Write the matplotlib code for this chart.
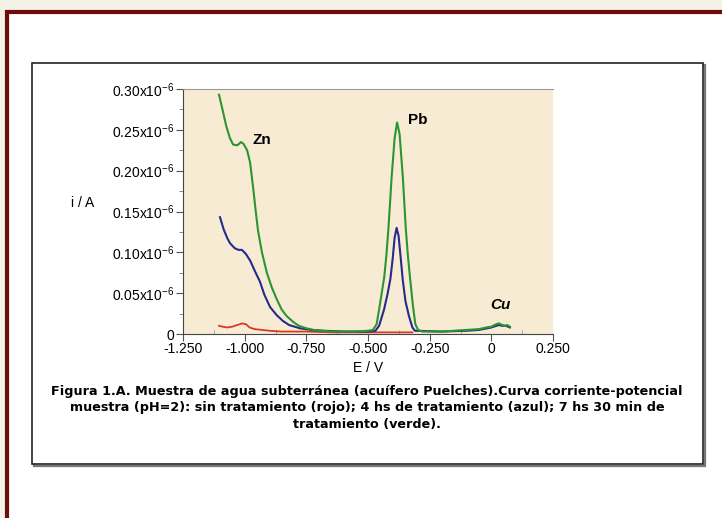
import matplotlib.pyplot as plt
from matplotlib.patches import Rectangle
from matplotlib.ticker import MultipleLocator, FixedLocator

# potential (V) and current (x1e-6 A)
e_green = [-1.104, -1.09, -1.075, -1.06, -1.047, -1.03, -1.015, -1.005, -0.99, -0.978,
           -0.966, -0.955, -0.946, -0.93, -0.91, -0.89, -0.869, -0.85, -0.83, -0.804,
           -0.78, -0.75, -0.72, -0.695, -0.65, -0.60, -0.55, -0.50, -0.48, -0.465,
           -0.455, -0.434, -0.425, -0.417, -0.404, -0.392, -0.382, -0.372, -0.359, -0.347,
           -0.338, -0.330, -0.318, -0.308, -0.297, -0.28, -0.20, -0.15, -0.10, -0.05,
           -0.02, 0.00, 0.02, 0.03, 0.045, 0.055, 0.065, 0.075]
i_green = [0.293, 0.275, 0.255, 0.240, 0.232, 0.231, 0.235, 0.233, 0.225, 0.210,
           0.180, 0.150, 0.127, 0.100, 0.075, 0.057, 0.042, 0.030, 0.022, 0.015,
           0.010, 0.007, 0.005, 0.004, 0.003, 0.003, 0.003, 0.004, 0.005, 0.012,
           0.030, 0.070, 0.098, 0.130, 0.193, 0.240, 0.259, 0.245, 0.193, 0.130,
           0.095, 0.070, 0.035, 0.012, 0.005, 0.003, 0.003, 0.004, 0.005, 0.006,
           0.008, 0.009, 0.012, 0.013, 0.011, 0.010, 0.011, 0.009]

e_blue = [-1.100, -1.085, -1.07, -1.059, -1.04, -1.025, -1.011, -0.995, -0.978, -0.96,
          -0.938, -0.92, -0.897, -0.87, -0.845, -0.82, -0.776, -0.73, -0.68, -0.60,
          -0.50, -0.47, -0.455, -0.435, -0.42, -0.409, -0.40, -0.392, -0.384, -0.376,
          -0.368, -0.359, -0.348, -0.334, -0.32, -0.31, -0.20, -0.10, -0.05, 0.00,
          0.02, 0.03, 0.045, 0.06, 0.075]
i_blue = [0.143, 0.128, 0.117, 0.111, 0.105, 0.103, 0.103, 0.098, 0.090, 0.078,
          0.064, 0.048, 0.033, 0.023, 0.016, 0.011, 0.007, 0.005, 0.004, 0.003,
          0.003, 0.004, 0.010, 0.030, 0.050, 0.068, 0.092, 0.118, 0.130, 0.120,
          0.095, 0.066, 0.040, 0.022, 0.008, 0.004, 0.003, 0.004, 0.005, 0.008,
          0.010, 0.011, 0.010, 0.010, 0.008]

e_red = [-1.104, -1.09, -1.07, -1.05, -1.03, -1.01, -0.995, -0.98, -0.96, -0.93,
         -0.90, -0.85, -0.75, -0.65, -0.55, -0.45, -0.38, -0.32]
i_red = [0.010, 0.009, 0.008, 0.009, 0.011, 0.013, 0.012, 0.008, 0.006, 0.005,
         0.004, 0.003, 0.003, 0.002, 0.002, 0.002, 0.002, 0.002]

y_ticks = [0, 0.05, 0.10, 0.15, 0.20, 0.25, 0.30]
y_labels = ['0'] + [f'{v:.2f}x10$^{{-6}}$' for v in y_ticks[1:]]
x_ticks = [-1.25, -1.0, -0.75, -0.5, -0.25, 0, 0.25]
x_labels = ['-1.250', '-1.000', '-0.750', '-0.500', '-0.250', '0', '0.250']

caption = ("Figura 1.A. Muestra de agua subterránea (acuífero Puelches).Curva corriente-potencial\n"
           "muestra (pH=2): sin tratamiento (rojo); 4 hs de tratamiento (azul); 7 hs 30 min de\n"
           "tratamiento (verde).")

plt.rcParams['font.family'] = 'Liberation Sans'
plt.rcParams['mathtext.fontset'] = 'custom'
plt.rcParams['mathtext.rm'] = 'Liberation Sans'

W, H = 722, 518
fig = plt.figure(figsize=(W / 100, H / 100), dpi=100, facecolor='#f4f1e8')

def box(x0, y0, x1, y1, **kw):
    # pixel coords from the top-left corner
    fig.add_artist(Rectangle((x0 / W, 1 - y1 / H), (x1 - x0) / W, (y1 - y0) / H,
                             transform=fig.transFigure, zorder=-5, **kw))

box(7, 12, 760, 560, facecolor='white', edgecolor='#6e0a0a', lw=3.0)
box(34, 65, 705, 466, facecolor='none', edgecolor='#777777', lw=1.6)
box(32, 63, 703, 464, facecolor='white', edgecolor='#222222', lw=1.2)

ax = fig.add_axes([183 / W, 1 - 334 / H, 370 / W, 245 / H])
ax.set_zorder(5)
ax.set_facecolor('#f8ebd3')
ax.plot(e_red, i_red, color='#d83a22', lw=1.3)
ax.plot(e_blue, i_blue, color='#262a8c', lw=1.5)
ax.plot(e_green, i_green, color='#2a9632', lw=1.5)

ax.set_xlim(-1.25, 0.25)
ax.set_ylim(0, 0.30)
ax.xaxis.set_major_locator(FixedLocator(x_ticks))
ax.set_xticklabels(x_labels)
ax.yaxis.set_major_locator(FixedLocator(y_ticks))
ax.set_yticklabels(y_labels)
ax.xaxis.set_minor_locator(MultipleLocator(0.125))
ax.yaxis.set_minor_locator(MultipleLocator(0.025))
ax.tick_params(axis='both', which='major', labelsize=10, length=5, width=0.8,
               color='#555555', pad=1)
ax.tick_params(axis='x', which='minor', direction='in', length=3, color='#999999')
ax.tick_params(axis='y', which='minor', length=3, color='#777777')
for s in ['left', 'bottom']:
    ax.spines[s].set_color('#444444')
ax.spines['top'].set_color('#999999')
ax.spines['right'].set_visible(False)

ax.set_xlabel('E / V', fontsize=10, labelpad=3)
fig.text(83 / W, 1 - 203 / H, 'i / A', fontsize=10, ha='center', va='center')

ax.text(-0.93, 0.237, 'Zn', fontsize=11, fontweight='bold', ha='center', va='center')
ax.text(-0.30, 0.262, 'Pb', fontsize=11, fontweight='bold', ha='center', va='center')
ax.text(0.035, 0.036, 'Cu', fontsize=11, fontweight='bold', fontstyle='italic',
        ha='center', va='center')

fig.text(367 / W, 1 - 408 / H, caption, fontsize=9.2, fontweight='bold',
         family='DejaVu Sans', ha='center', va='center', linespacing=1.35)

fig.savefig('out.png', dpi=100, facecolor=fig.get_facecolor())
